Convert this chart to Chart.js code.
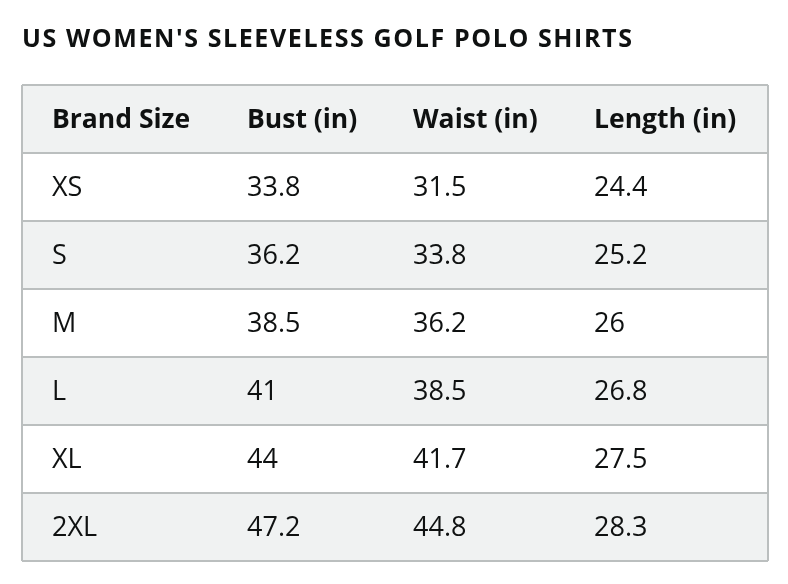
<!DOCTYPE html>
<html>
<head>
<meta charset="utf-8">
<script src="https://cdn.jsdelivr.net/npm/chart.js@4.4.1/dist/chart.umd.min.js"></script>
<style>
  html, body { margin: 0; padding: 0; background: #ffffff; }
  #wrap { width: 788px; height: 584px; }
</style>
</head>
<body>
<div id="wrap"><canvas id="c" width="788" height="584"></canvas></div>
<script>
const title = "US WOMEN'S SLEEVELESS GOLF POLO SHIRTS";
const headers = ['Brand Size', 'Bust (in)', 'Waist (in)', 'Length (in)'];
const sizes = ['XS', 'S', 'M', 'L', 'XL', '2XL'];
const bust = [33.8, 36.2, 38.5, 41, 44, 47.2];
const waist = [31.5, 33.8, 36.2, 38.5, 41.7, 44.8];
const length = [24.4, 25.2, 26, 26.8, 27.5, 28.3];

// layout (not data)
const TABLE_W = 746;
const COL_TEXT_X = [30, 225, 391, 572];
const FONT = '"Open Sans", "Noto Sans", sans-serif';
const GRAY = '#f0f2f2';
const LINE = '#bbbfbf';
const INK = '#0f1111';

const rowLabels = ['header'].concat(sizes);
const rowCells = [headers].concat(sizes.map((s, i) => [s, String(bust[i]), String(waist[i]), String(length[i])]));

const titleSpacing = {
  id: 'titleSpacing',
  beforeDraw(chart) { chart.ctx.letterSpacing = '1.6px'; },
  beforeDatasetsDraw(chart) { chart.ctx.letterSpacing = '0px'; }
};

const tableText = {
  id: 'tableText',
  afterDraw(chart) {
    const ctx = chart.ctx;
    const xs = chart.scales.x, ys = chart.scales.y;
    ctx.save();
    ctx.letterSpacing = '0px';
    ctx.fillStyle = INK;
    ctx.textBaseline = 'middle';
    ctx.textAlign = 'left';
    rowCells.forEach((cells, r) => {
      ctx.font = r === 0 ? 'bold 26.5px ' + FONT : '27px ' + FONT;
      const y = ys.getPixelForValue(r);
      cells.forEach((t, c) => {
        ctx.fillText(t, xs.getPixelForValue(COL_TEXT_X[c]), y + 1);
      });
    });
    ctx.restore();
  }
};

new Chart(document.getElementById('c'), {
  type: 'bar',
  data: {
    labels: rowLabels,
    datasets: [{
      data: rowLabels.map(() => [0, TABLE_W]),
      backgroundColor: rowLabels.map((_, i) => i % 2 === 0 ? GRAY : '#ffffff'),
      borderWidth: 0,
      barPercentage: 1,
      categoryPercentage: 1
    }]
  },
  options: {
    indexAxis: 'y',
    responsive: false,
    animation: false,
    layout: { padding: { left: 22, right: 20, top: 0, bottom: 23 } },
    plugins: {
      legend: { display: false },
      tooltip: { enabled: false },
      title: {
        display: true,
        text: title,
        align: 'start',
        color: INK,
        font: { family: FONT, size: 25, weight: 'bold', lineHeight: 1.2 },
        padding: { top: 25, bottom: 30 }
      }
    },
    scales: {
      x: {
        type: 'linear', min: 0, max: TABLE_W,
        ticks: { display: false, stepSize: TABLE_W },
        grid: { color: LINE, lineWidth: 2, drawTicks: false, z: 1 },
        border: { display: false }
      },
      y: {
        type: 'category',
        ticks: { display: false },
        grid: { color: LINE, lineWidth: 2, drawTicks: false, offset: true, z: 1 },
        border: { display: false }
      }
    }
  },
  plugins: [titleSpacing, tableText]
});
</script>
</body>
</html>
